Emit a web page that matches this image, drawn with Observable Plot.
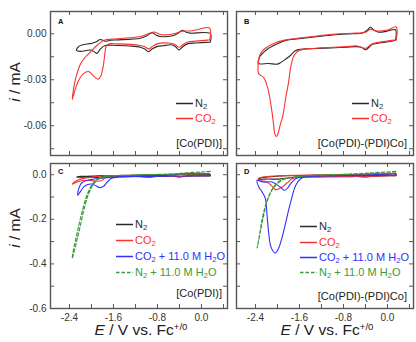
<!DOCTYPE html>
<html><head><meta charset="utf-8">
<script src="https://cdn.jsdelivr.net/npm/d3@7"></script>
<script src="https://cdn.jsdelivr.net/npm/@observablehq/plot@0.6"></script>
<style>
body{margin:0;background:#fff;}
#chart{position:relative;width:416px;height:342px;font-family:"Liberation Sans",Arial,sans-serif;overflow:hidden;background:#fff;}
#chart svg.plot{position:absolute;}
.abs{position:absolute;white-space:nowrap;line-height:1;}
.lg{font-size:11px;}
.lg sub{font-size:0.7em;vertical-align:-0.3em;line-height:0;}
.ttl{font-size:15.5px;color:#222;}
.ttl sup{font-size:0.62em;vertical-align:0.55em;line-height:0;}
.let{font-size:7.5px;font-weight:bold;color:#111;}
.cmp{font-size:11px;color:#222;}
</style></head><body><div id="chart"></div>
<script>
// ---------- data: [E (V vs Fc+/0), i (mA)] ----------
const E_DOMAIN = [-2.745, 0.473];
const E_TICKS = [-2.4, -2.0, -1.6, -1.2, -0.8, -0.4, 0.0, 0.4];
const E_LABELS = [-2.4, -1.6, -0.8, 0.0];
const I_DOMAIN_AB = [-0.0794, 0.0145];
const I_TICKS_AB = [0, -0.015, -0.03, -0.045, -0.06, -0.075];
const I_LABELS_AB = [0, -0.03, -0.06];
const I_DOMAIN_CD = [-0.6, 0.0502];
const I_TICKS_CD = [0, -0.1, -0.2, -0.3, -0.4, -0.5];
const I_LABELS_CD = [0, -0.2, -0.4, -0.6];

// [Co(PDI)] under N2
const monoN2 = [[0.16,-0.0055],[-0.1,-0.0060],[-0.26,-0.0066],[-0.34,-0.0085],[-0.41,-0.0106],[-0.47,-0.0085],[-0.53,-0.0073],[-0.7,-0.0078],[-0.81,-0.0084],[-0.9,-0.0100],[-0.96,-0.0117],[-1.03,-0.0100],[-1.11,-0.0088],[-1.3,-0.0080],[-1.53,-0.0077],[-1.75,-0.0077],[-1.84,-0.0100],[-1.90,-0.0128],[-1.96,-0.0115],[-2.02,-0.0106],[-2.2,-0.0115],[-2.27,-0.0110],[-2.24,-0.0085],[-2.17,-0.0073],[-1.99,-0.0062],[-1.90,-0.0050],[-1.84,-0.0038],[-1.75,-0.0049],[-1.65,-0.0042],[-1.53,-0.0040],[-1.11,-0.0029],[-1.0,-0.0015],[-0.90,0.0007],[-0.83,-0.0008],[-0.75,-0.0018],[-0.51,-0.0011],[-0.42,0.0005],[-0.35,0.0022],[-0.28,0.0010],[-0.2,0.0004],[0.16,0.0],[0.16,-0.0055]];
// [Co(PDI)] under CO2
const monoCO2 = [[0.15,-0.0040],[-0.1,-0.0048],[-0.26,-0.0055],[-0.34,-0.0072],[-0.41,-0.0088],[-0.48,-0.0070],[-0.56,-0.0062],[-0.81,-0.0066],[-0.9,-0.0085],[-0.96,-0.0099],[-1.03,-0.0085],[-1.11,-0.0077],[-1.53,-0.0066],[-1.70,-0.0068],[-1.74,-0.0090],[-1.76,-0.0140],[-1.79,-0.0220],[-1.83,-0.0275],[-1.88,-0.0297],[-1.95,-0.0280],[-2.05,-0.0247],[-2.15,-0.0262],[-2.22,-0.0295],[-2.28,-0.0345],[-2.35,-0.0429],[-2.33,-0.0370],[-2.29,-0.0295],[-2.24,-0.0235],[-2.2,-0.0198],[-2.12,-0.0155],[-2.05,-0.0130],[-1.97,-0.0100],[-1.9,-0.0077],[-1.78,-0.0044],[-1.53,-0.0033],[-1.11,-0.0018],[-1.0,-0.0005],[-0.87,0.0011],[-0.75,-0.0005],[-0.62,-0.0007],[-0.45,0.0005],[-0.35,0.0017],[-0.2,0.0018],[-0.08,0.0026],[0.15,0.0037],[0.15,-0.0040]];
// [Co(PDI)] CO2 + 11.0 M H2O
const monoCO2H2O = [[0.15,-0.004],[-0.4,-0.006],[-1.2,-0.008],[-1.55,-0.012],[-1.65,-0.018],[-1.72,-0.035],[-1.78,-0.052],[-1.84,-0.058],[-1.92,-0.050],[-1.99,-0.042],[-2.07,-0.044],[-2.14,-0.055],[-2.2,-0.075],[-2.25,-0.092],[-2.24,-0.070],[-2.22,-0.055],[-2.17,-0.035],[-2.02,-0.022],[-1.78,-0.015],[-1.5,-0.008],[-0.8,-0.002],[0.15,0.003],[0.15,-0.004]];
// [Co(PDI)] N2 + 11.0 M H2O
const monoN2H2O = [[0.16,0.015],[0.0,0.012],[-0.26,0.009],[-0.5,0.004],[-1.0,0.0],[-1.5,-0.004],[-1.75,-0.010],[-1.88,-0.022],[-1.97,-0.045],[-2.05,-0.085],[-2.12,-0.14],[-2.2,-0.226],[-2.28,-0.31],[-2.35,-0.376],[-2.33,-0.34],[-2.25,-0.25],[-2.17,-0.165],[-2.08,-0.09],[-1.99,-0.045],[-1.90,-0.02],[-1.75,-0.008],[-1.3,-0.002],[-0.5,0.002],[0.0,0.004],[0.16,0.006]];

// [Co(PDI)-(PDI)Co] under N2
const diN2 = [[0.145,-0.0044],[-0.04,-0.0055],[-0.28,-0.0071],[-0.34,-0.0090],[-0.4,-0.0104],[-0.47,-0.0090],[-0.55,-0.0084],[-0.76,-0.0088],[-1.13,-0.0095],[-1.49,-0.0099],[-1.67,-0.0110],[-1.76,-0.0140],[-1.85,-0.0165],[-1.93,-0.0185],[-2.0,-0.0198],[-2.16,-0.0194],[-2.35,-0.0194],[-2.34,-0.0165],[-2.31,-0.0143],[-2.25,-0.0120],[-2.18,-0.0099],[-2.0,-0.0066],[-1.85,-0.0044],[-1.61,-0.0033],[-1.25,-0.0018],[-0.88,-0.0005],[-0.64,0.0],[-0.45,0.0005],[-0.36,0.0025],[-0.31,0.0044],[-0.25,0.0025],[-0.16,0.0010],[-0.006,0.0017],[0.145,0.0026],[0.145,-0.0044]];
// [Co(PDI)-(PDI)Co] under CO2
const diCO2 = [[0.16,-0.0040],[-0.04,-0.0050],[-0.28,-0.0066],[-0.4,-0.0095],[-0.55,-0.0080],[-0.76,-0.0084],[-1.13,-0.0090],[-1.31,-0.0095],[-1.61,-0.0110],[-1.70,-0.0143],[-1.76,-0.0220],[-1.80,-0.0320],[-1.85,-0.0418],[-1.90,-0.0530],[-1.95,-0.0594],[-1.99,-0.0650],[-2.02,-0.0671],[-2.05,-0.0650],[-2.07,-0.0594],[-2.10,-0.0510],[-2.13,-0.0440],[-2.18,-0.0350],[-2.25,-0.0286],[-2.32,-0.0268],[-2.35,-0.0253],[-2.35,-0.0200],[-2.33,-0.0150],[-2.29,-0.0120],[-2.22,-0.0095],[-2.05,-0.0060],[-1.85,-0.0040],[-1.61,-0.0028],[-1.25,-0.0013],[-0.88,0.0],[-0.64,0.0003],[-0.4,0.0010],[-0.31,0.0030],[-0.2,0.0018],[0.0,0.0024],[0.16,0.0044],[0.16,-0.0040]];
// [Co(PDI)-(PDI)Co] CO2 + 11.0 M H2O
const diCO2H2O = [[0.15,-0.002],[-0.5,-0.004],[-1.2,-0.006],[-1.5,-0.010],[-1.58,-0.018],[-1.67,-0.048],[-1.73,-0.095],[-1.79,-0.151],[-1.86,-0.225],[-1.92,-0.284],[-1.98,-0.33],[-2.04,-0.351],[-2.09,-0.340],[-2.13,-0.314],[-2.16,-0.26],[-2.19,-0.181],[-2.22,-0.107],[-2.28,-0.077],[-2.34,-0.055],[-2.37,-0.025],[-2.30,-0.030],[-2.25,-0.033],[-2.1,-0.033],[-1.95,-0.055],[-1.87,-0.070],[-1.81,-0.058],[-1.76,-0.040],[-1.67,-0.018],[-1.55,-0.010],[-1.0,-0.004],[-0.3,0.0],[0.15,0.003],[0.15,-0.002]];
// [Co(PDI)-(PDI)Co] N2 + 11.0 M H2O
const diN2H2O = [[0.15,0.015],[-0.3,0.008],[-0.8,0.002],[-1.3,-0.002],[-1.61,-0.009],[-1.85,-0.018],[-2.0,-0.04],[-2.1,-0.07],[-2.19,-0.122],[-2.25,-0.181],[-2.31,-0.255],[-2.37,-0.329],[-2.34,-0.29],[-2.28,-0.20],[-2.22,-0.14],[-2.14,-0.085],[-2.05,-0.048],[-1.92,-0.022],[-1.7,-0.010],[-1.2,-0.003],[-0.5,0.003],[0.15,0.008]];

// ---------- styles ----------
const COL = {n2:"#2b2b2b", co2:"#ff3030", co2h2o:"#3030ff", n2h2o:"#3a9a3a"};
const FRAME = "#555";

const chart = document.getElementById("chart");

function panel(cfg){
  const innerW = cfg.w - cfg.mL - cfg.mR;
  const innerH = cfg.h - cfg.mT - cfg.mB;
  const lines = cfg.series.map(s => Plot.line(s.data, {x: d => d[0], y: d => d[1], stroke: s.color, strokeWidth: 1.1, strokeDasharray: s.dash || null, curve: "catmull-rom", clip: true}));
  const tl = 4;
  const marks = [
    ...lines,
    Plot.frame({stroke: FRAME, strokeWidth: 1.4}),
    Plot.tickX(E_TICKS, {x: d => d, insetTop: innerH - tl, stroke: FRAME}),
    Plot.tickX(E_TICKS, {x: d => d, insetBottom: innerH - tl, stroke: FRAME}),
    Plot.tickY(cfg.yTicks, {y: d => d, insetRight: innerW - tl, stroke: FRAME}),
    Plot.tickY(cfg.yTicks, {y: d => d, insetLeft: innerW - tl, stroke: FRAME})
  ];
  if (cfg.showY) marks.push(Plot.axisY(cfg.yLabels, {tickSize: 0, tickPadding: 4, tickFormat: d => d.toFixed(cfg.yDec)}));
  if (cfg.showX) marks.push(Plot.axisX(E_LABELS, {tickSize: 0, tickPadding: 5, tickFormat: d => d.toFixed(1)}));
  const svg = Plot.plot({
    width: cfg.w, height: cfg.h,
    marginLeft: cfg.mL, marginRight: cfg.mR, marginTop: cfg.mT, marginBottom: cfg.mB,
    x: {domain: E_DOMAIN, axis: null},
    y: {domain: cfg.yDomain, axis: null},
    style: {fontFamily: "Liberation Sans, Arial, sans-serif", fontSize: "10px", color: "#333", background: "transparent", overflow: "visible"},
    marks
  });
  svg.classList.add("plot");
  svg.style.left = cfg.left + "px";
  svg.style.top = cfg.top + "px";
  chart.appendChild(svg);
}

panel({left:0, top:0, w:232, h:160, mL:50, mR:5, mT:11, mB:5, yDomain:I_DOMAIN_AB, yTicks:I_TICKS_AB, yLabels:I_LABELS_AB, yDec:2, showY:true, showX:false,
  series:[{data:monoN2, color:COL.n2},{data:monoCO2, color:COL.co2}]});
panel({left:232, top:0, w:184, h:160, mL:4, mR:3, mT:11, mB:5, yDomain:I_DOMAIN_AB, yTicks:I_TICKS_AB, yLabels:I_LABELS_AB, yDec:2, showY:false, showX:false,
  series:[{data:diN2, color:COL.n2},{data:diCO2, color:COL.co2}]});
panel({left:0, top:160, w:232, h:182, mL:50, mR:5, mT:3, mB:34, yDomain:I_DOMAIN_CD, yTicks:I_TICKS_CD, yLabels:I_LABELS_CD, yDec:1, showY:true, showX:true,
  series:[{data:monoN2, color:COL.n2},{data:monoCO2, color:COL.co2},{data:monoCO2H2O, color:COL.co2h2o},{data:monoN2H2O, color:COL.n2h2o, dash:"3.5,2"}]});
panel({left:232, top:160, w:184, h:182, mL:4, mR:3, mT:3, mB:34, yDomain:I_DOMAIN_CD, yTicks:I_TICKS_CD, yLabels:I_LABELS_CD, yDec:1, showY:false, showX:true,
  series:[{data:diN2, color:COL.n2},{data:diCO2, color:COL.co2},{data:diCO2H2O, color:COL.co2h2o},{data:diN2H2O, color:COL.n2h2o, dash:"3.5,2"}]});

// ---------- html text: legends, labels, titles ----------
function addDiv(cls, html, x, y, tf){
  const d = document.createElement("div");
  d.className = "abs " + cls;
  d.innerHTML = html;
  d.style.left = x + "px"; d.style.top = y + "px";
  d.style.transform = tf || "translate(0,-50%)";
  chart.appendChild(d);
  return d;
}
const LEG = [
  {html:"N<sub>2</sub>", color:COL.n2},
  {html:"CO<sub>2</sub>", color:COL.co2},
  {html:"CO<sub>2</sub> + 11.0 M H<sub>2</sub>O", color:COL.co2h2o},
  {html:"N<sub>2</sub> + 11.0 M H<sub>2</sub>O", color:COL.n2h2o, dash:"3.5,2"}
];
function legend(x, ys, n){
  for (let k = 0; k < n; k++){
    const e = LEG[k];
    const sw = `<svg width="17" height="4" style="vertical-align:middle"><line x1="0" y1="2" x2="17" y2="2" stroke="${e.color}" stroke-width="1.3" ${e.dash ? `stroke-dasharray="${e.dash}"` : ""}/></svg>`;
    addDiv("lg", sw, x, ys[k]);
    addDiv("lg", `<span style="color:${e.color}">${e.html}</span>`, x + 19, ys[k] - 0.5);
  }
}
legend(176, [103, 118], 2);
legend(352, [103, 118], 2);
legend(116, [224, 240, 256, 272], 4);
legend(300, [226, 242, 257, 272], 4);

addDiv("cmp", "[Co(PDI)]", 222, 143, "translate(-100%,-50%)");
addDiv("cmp", "[Co(PDI)-(PDI)Co]", 407, 143, "translate(-100%,-50%)");
addDiv("cmp", "[Co(PDI)]", 222, 293, "translate(-100%,-50%)");
addDiv("cmp", "[Co(PDI)-(PDI)Co]", 407, 296, "translate(-100%,-50%)");

addDiv("let", "A", 58, 21.5);
addDiv("let", "B", 244, 21.5);
addDiv("let", "C", 58, 172);
addDiv("let", "D", 244, 172);

addDiv("ttl", "<i>i</i> / mA", 15, 82, "translate(-50%,-50%) rotate(-90deg)");
addDiv("ttl", "<i>i</i> / mA", 15, 228, "translate(-50%,-50%) rotate(-90deg)");
addDiv("ttl", "<i>E</i> / V vs. Fc<sup>+/0</sup>", 141, 330, "translate(-50%,-50%)");
addDiv("ttl", "<i>E</i> / V vs. Fc<sup>+/0</sup>", 327, 330, "translate(-50%,-50%)");
</script></body></html>
